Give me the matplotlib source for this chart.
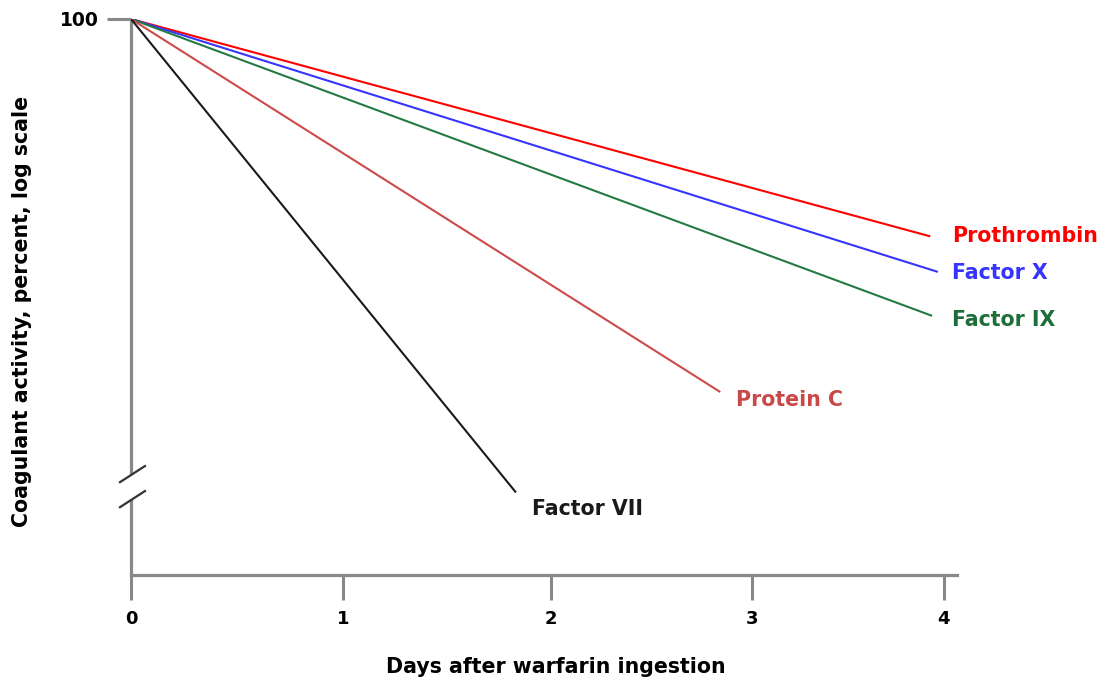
import numpy as np
import matplotlib.pyplot as plt

# days after warfarin, coagulant activity (%) at start and at end of each line
factors = ["Prothrombin", "Factor X", "Factor IX", "Protein C", "Factor VII"]
end_day = [3.93, 3.97, 3.94, 2.84, 1.83]
end_pct = [31.0, 25.6, 20.2, 13.4, 7.8]
start_day = 0
start_pct = 100
colors = ["#ff0000", "#3535ff", "#237a43", "#cc4a4a", "#1a1a1a"]
label_colors = ["#ff0000", "#3535ff", "#1e6e3a", "#c94848", "#1a1a1a"]
# label offset from line end, in pixels (right, down)
label_off = [(22, 0), (14, -1), (20, -4), (16, -8), (16, -17)]

x_ticks = [0, 1, 2, 3, 4]

plt.rcParams['font.family'] = ['DejaVu Sans']
plt.rcParams['font.weight'] = 'bold'

# the tick spacing in the original drawing is slightly uneven
_d = [-1, 0, 1, 2, 3, 4, 5]
_p = [-212, 0, 212, 420, 621, 812, 1003]
def fwd(x):
    return np.interp(x, _d, _p)
def inv(x):
    return np.interp(x, _p, _d)

fig = plt.figure(figsize=(11.05, 6.81), dpi=100)
W, H = 1105, 681
ax = fig.add_axes([131 / W, 1 - 575 / H, (957 - 131) / W, (575 - 19) / H])
ax.set_xscale('function', functions=(fwd, inv))
ax.set_yscale('log')
ax.set_xlim(0, 4.07)
ax.set_ylim(5, 100)

for i, name in enumerate(factors):
    ax.plot([start_day, end_day[i]], [start_pct, end_pct[i]], color=colors[i], lw=1.5,
            solid_capstyle='butt', zorder=3)
    dx, dy = label_off[i]
    ax.annotate(name, (end_day[i], end_pct[i]), xytext=(dx * 0.72, dy * 0.72),
                textcoords='offset points', ha='left', va='center',
                color=label_colors[i], fontsize=14.8, fontweight='bold')

gray = "#888888"
for s in ['top', 'right', 'left']:
    ax.spines[s].set_visible(False)
ax.spines['bottom'].set_color(gray)
ax.spines['bottom'].set_linewidth(2.3)

ax.set_xticks(x_ticks)
ax.set_xticklabels([str(t) for t in x_ticks])
ax.tick_params(axis='x', direction='out', length=18, width=2.2, color=gray,
               labelsize=13, pad=7)
ax.yaxis.set_minor_locator(plt.NullLocator())
ax.set_yticks([100])
ax.set_yticklabels(["100"])
ax.tick_params(axis='y', direction='out', length=17, width=2.2, color=gray,
               labelsize=13.5, pad=6)

# y axis with a break
ax.plot([0, 0], [1, 0.1817], transform=ax.transAxes, color=gray, lw=2.3,
        clip_on=False, solid_capstyle='butt', zorder=2)
ax.plot([0, 0], [0.1367, 0], transform=ax.transAxes, color=gray, lw=2.3,
        clip_on=False, solid_capstyle='butt', zorder=2)
ax.plot([-0.0133, 0.0169], [0.167, 0.196], transform=ax.transAxes, color="#333333",
        lw=1.6, clip_on=False)
ax.plot([-0.0133, 0.0169], [0.122, 0.151], transform=ax.transAxes, color="#333333",
        lw=1.6, clip_on=False)

fig.text(556 / W, 1 - 667 / H, "Days after warfarin ingestion", ha='center', va='center',
         fontsize=14.8, fontweight='bold')
fig.text(22 / W, 1 - 311 / H, "Coagulant activity, percent, log scale", ha='center',
         va='center', rotation=90, fontsize=14.8, fontweight='bold')

fig.savefig("out.png", dpi=100)
